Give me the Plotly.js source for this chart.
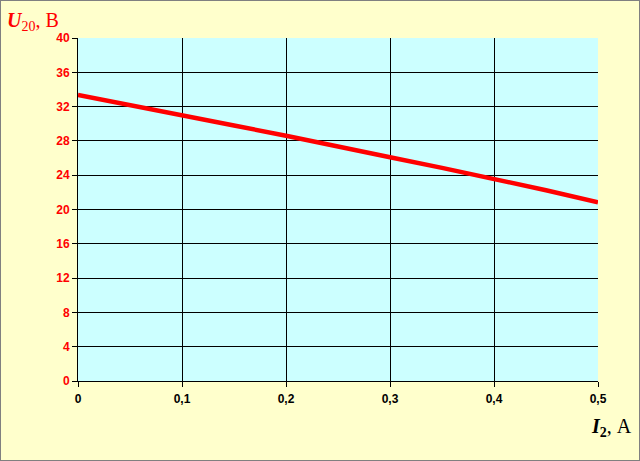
<!DOCTYPE html>
<html><head><meta charset="utf-8">
<script src="https://cdn.plot.ly/plotly-3.0.1.min.js"></script>
<style>html,body{margin:0;padding:0;background:#FFFFCC;}
#wrap{position:relative;width:640px;height:461px;}
#border{position:absolute;left:0;top:0;width:638px;height:459px;border:1px solid #808080;pointer-events:none;}
</style></head>
<body><div id="wrap"><div id="chart" style="width:640px;height:461px;"></div><div id="border"></div></div>
<script>
const currentA = [0, 0.05, 0.1, 0.15, 0.2, 0.25, 0.3, 0.35, 0.4, 0.45, 0.5];
const voltageV = [33.35, 32.2, 31.0, 29.8, 28.6, 27.4, 26.1, 24.85, 23.6, 22.25, 20.85];
const xTickVals = [0, 0.1, 0.2, 0.3, 0.4, 0.5];
const xTickText = ['0', '0,1', '0,2', '0,3', '0,4', '0,5'];
const yTickVals = [0, 4, 8, 12, 16, 20, 24, 28, 32, 36, 40];

Plotly.newPlot('chart', [{
  x: currentA, y: voltageV, mode: 'lines', type: 'scatter',
  line: {color: '#FF0000', width: 4.5}, hoverinfo: 'none'
}], {
  width: 640, height: 461,
  paper_bgcolor: '#FFFFCC', plot_bgcolor: '#CCFFFF',
  margin: {l: 78, r: 42, t: 38, b: 80},
  showlegend: false,
  xaxis: {range: [0, 0.5], tickvals: xTickVals, ticktext: xTickText,
    showgrid: true, gridcolor: '#000000', gridwidth: 1,
    showline: true, linecolor: '#000000', linewidth: 1,
    ticks: 'outside', ticklen: 5, tickcolor: '#000000', ticklabelstandoff: 2,
    tickfont: {family: 'Liberation Sans, Arial', size: 12, color: '#000000', weight: 'bold'},
    zeroline: false, fixedrange: true},
  yaxis: {range: [0, 40], tickvals: yTickVals,
    showgrid: true, gridcolor: '#000000', gridwidth: 1,
    showline: true, linecolor: '#000000', linewidth: 1,
    ticks: 'outside', ticklen: 5, tickcolor: '#000000',
    tickfont: {family: 'Liberation Sans, Arial', size: 12, color: '#FF0000', weight: 'bold'},
    zeroline: false, fixedrange: true},
  annotations: [
    {xref: 'paper', yref: 'paper', x: -78/520 + 5/520, y: 1 + 17/343, xanchor: 'left', yanchor: 'middle',
     showarrow: false, text: '<b><i>U</i></b><sub>20</sub>, В',
     font: {family: 'Liberation Serif, Times New Roman', size: 20, color: '#FF0000'}},
    {xref: 'paper', yref: 'paper', x: 1 + 36/520, y: -46/343, xanchor: 'right', yanchor: 'middle',
     showarrow: false, text: '<b><i>I</i></b><sub><b>2</b></sub>, А',
     font: {family: 'Liberation Serif, Times New Roman', size: 20, color: '#000000'}}
  ]
}, {displayModeBar: false, staticPlot: true});
</script></body></html>
